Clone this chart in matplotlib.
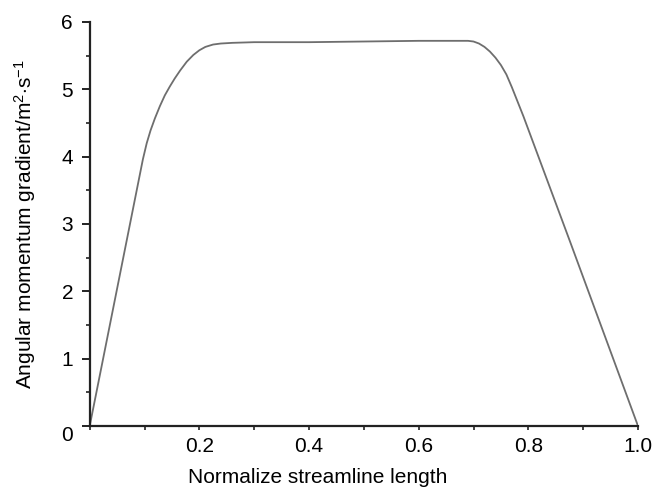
import matplotlib
matplotlib.use("Agg")
import matplotlib.pyplot as plt
from matplotlib.ticker import MultipleLocator

# -----------------------------
# Data
# -----------------------------

length = [0.0, 0.049, 0.097, 0.104, 0.111, 0.119, 0.128, 0.137, 0.146, 0.155,
          0.165, 0.177, 0.189, 0.20, 0.211, 0.225, 0.239, 0.26, 0.30, 0.40,
          0.50, 0.60, 0.69, 0.70, 0.71, 0.72, 0.73, 0.74, 0.75, 0.76,
          0.77, 0.791, 0.876, 1.0]
gradient = [0.0, 2.0, 3.96, 4.20, 4.39, 4.57, 4.75, 4.91, 5.04, 5.16,
            5.28, 5.41, 5.51, 5.58, 5.63, 5.665, 5.68, 5.69, 5.70, 5.70,
            5.71, 5.72, 5.72, 5.71, 5.68, 5.63, 5.56, 5.47, 5.36, 5.22,
            5.03, 4.60, 2.74, 0.0]

x_ticks = [0.2, 0.4, 0.6, 0.8, 1.0]
x_labels = ["0.2", "0.4", "0.6", "0.8", "1.0"]
y_ticks = [0, 1, 2, 3, 4, 5, 6]

# -----------------------------
# Style
# -----------------------------

plt.rcParams["font.family"] = ["Liberation Sans", "DejaVu Sans"]
plt.rcParams["mathtext.fontset"] = "custom"
plt.rcParams["mathtext.rm"] = "Liberation Sans"
plt.rcParams["mathtext.it"] = "Liberation Sans"

fig = plt.figure(figsize=(6.61, 4.95), dpi=100)
ax = fig.add_axes([0.1357, 0.1394, 0.8295, 0.8162])

ax.plot(length, gradient, color="#6e6e6e", lw=1.3, solid_capstyle="round",
        solid_joinstyle="round")

ax.set_xlim(0, 1.0)
ax.set_ylim(0, 6)

for side in ["top", "right"]:
    ax.spines[side].set_visible(False)
for side in ["left", "bottom"]:
    ax.spines[side].set_linewidth(1.6)
    ax.spines[side].set_color("#222222")

ax.set_xticks(x_ticks)
ax.set_xticklabels(x_labels)
ax.xaxis.set_minor_locator(MultipleLocator(0.1))
ax.set_yticks(y_ticks)
ax.yaxis.set_minor_locator(MultipleLocator(0.5))

ax.tick_params(axis="y", which="major", direction="out", length=6, width=1.4,
               pad=6, labelsize=15, color="#222222")
ax.tick_params(axis="y", which="minor", direction="out", length=3, width=1.2,
               color="#222222")
ax.tick_params(axis="x", which="both", direction="out", length=3, width=1.2,
               pad=5, labelsize=15, color="#222222")

# the origin "0" sits a bit lower than the other y labels
ax.get_yticklabels()[0].set_verticalalignment("top")

# x label is not centred on the axes in the original
ax.set_xlabel("Normalize streamline length", fontsize=15)
ax.xaxis.set_label_coords(0.415, -0.105)
ax.set_ylabel(r"Angular momentum gradient/m$^{2}$$\cdot$s$^{-1}$", fontsize=15,
              labelpad=17)

fig.savefig("out.png", dpi=100)
